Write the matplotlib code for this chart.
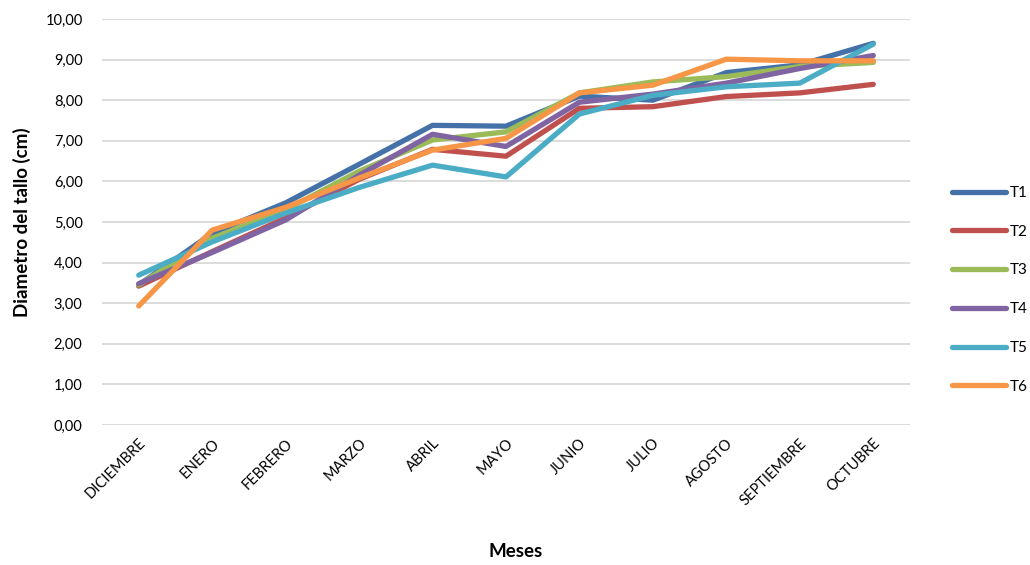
import matplotlib
matplotlib.use("Agg")
import matplotlib.pyplot as plt
from matplotlib.ticker import FuncFormatter, MultipleLocator

plt.rcParams['font.family'] = ['Lato', 'DejaVu Sans']

meses = ["DICIEMBRE", "ENERO", "FEBRERO", "MARZO", "ABRIL", "MAYO",
         "JUNIO", "JULIO", "AGOSTO", "SEPTIEMBRE", "OCTUBRE"]

t1 = [3.45, 4.72, 5.47, 6.42, 7.38, 7.36, 8.10, 8.00, 8.68, 8.87, 9.40]
t2 = [3.42, 4.27, 5.10, 6.05, 6.79, 6.62, 7.80, 7.84, 8.09, 8.18, 8.39]
t3 = [3.45, 4.60, 5.30, 6.25, 7.02, 7.22, 8.18, 8.45, 8.58, 8.83, 8.93]
t4 = [3.48, 4.25, 5.05, 6.15, 7.16, 6.86, 7.95, 8.15, 8.42, 8.78, 9.10]
t5 = [3.69, 4.51, 5.22, 5.85, 6.40, 6.11, 7.66, 8.12, 8.33, 8.42, 9.38]
t6 = [2.93, 4.80, 5.36, 6.08, 6.77, 7.06, 8.18, 8.37, 9.01, 8.97, 8.97]

series = {"T1": t1, "T2": t2, "T3": t3, "T4": t4, "T5": t5, "T6": t6}
colors = {"T1": "#4472A8", "T2": "#C0504D", "T3": "#9BBB59",
          "T4": "#8064A2", "T5": "#4BACC6", "T6": "#F79646"}

fig = plt.figure(figsize=(10.3, 5.65), dpi=100)
ax = fig.add_axes([0.099, 0.2478, 0.7845, 0.7186])

x = list(range(len(meses)))
for name, vals in series.items():
    ax.plot(x, vals, color=colors[name], linewidth=3.8, label=name,
            solid_joinstyle='round', solid_capstyle='round', zorder=3)

ax.set_xlim(-0.5, len(meses) - 0.5)
ax.set_ylim(0, 10)
ax.yaxis.set_major_locator(MultipleLocator(1))
ax.yaxis.set_major_formatter(FuncFormatter(lambda v, p: f"{v:.2f}".replace(".", ",")))
ax.grid(axis='y', color='#D9D9D9', linewidth=1.3, zorder=0)
ax.set_axisbelow(True)
for s in ax.spines.values():
    s.set_visible(False)

ax.set_xticks(x)
ax.set_xticklabels(meses, rotation=45, ha='right', rotation_mode='anchor',
                   fontsize=10.5)
ax.tick_params(axis='both', length=0, labelsize=10.5, colors='#000000')
ax.tick_params(axis='x', pad=8)
ax.tick_params(axis='y', pad=14)

ax.set_ylabel("Diametro del tallo (cm)", fontsize=13.5, fontweight='bold', labelpad=10)
fig.text(0.501, 0.015, "Meses", fontsize=13.5, fontweight='bold', ha='center')

leg = ax.legend(loc='center left', bbox_to_anchor=(1.035, 0.333), frameon=False,
                fontsize=11, handlelength=3.5, labelspacing=1.62, handletextpad=0.3)
for h in leg.get_lines():
    h.set_linewidth(3.8)
    h.set_solid_capstyle('round')

fig.savefig("out.png", dpi=100)
